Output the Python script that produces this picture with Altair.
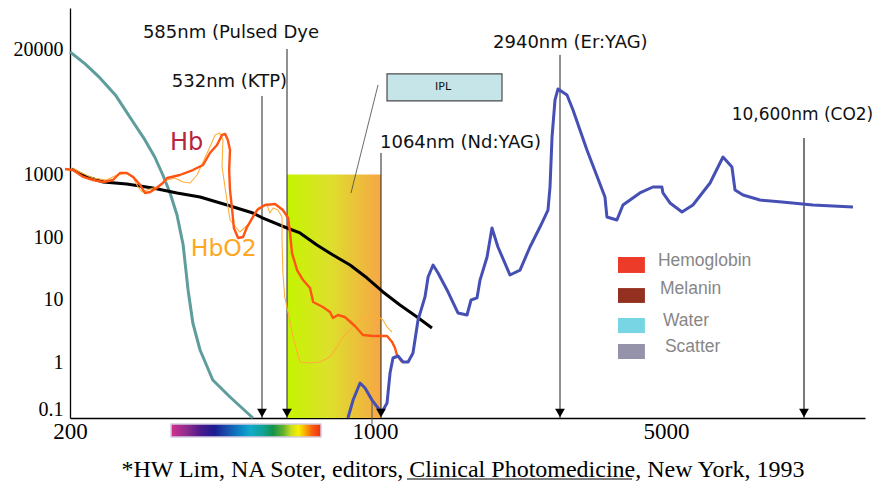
import altair as alt
import pandas as pd

# ---------------- data (wavelength in nm, absorption coefficient) ----------------
teal_x = [200, 216, 233, 252, 274, 293, 308, 321, 333, 345, 356, 365, 374, 388, 414, 452, 508]
teal_y = [18660, 13990, 10000, 6650, 3652, 2262, 1503, 964, 500, 224, 74.3, 14.0, 4.16, 1.55, 0.414, 0.18, 0.065]

mel_x = [202, 218, 237, 267, 305, 345, 388, 445, 508, 534, 585, 633, 702, 774, 859, 953, 1076, 1185, 1306, 1421]
mel_y = [1127, 897, 747, 693, 599, 500, 431, 322, 240, 200, 139, 116, 74.3, 51.2, 35.3, 21.8, 13.0, 8.03, 5.18, 3.46]

hb_x = [195, 203, 214, 225, 237, 249, 258, 267, 276, 286, 293, 301, 311, 321, 328, 350, 374, 394, 408, 423,
        434, 441, 447, 452, 450, 452, 457, 461, 471, 483, 493, 508, 519, 538, 559, 576, 589, 596, 603, 622,
        645, 673, 686, 728, 760, 774, 798, 832, 885, 929, 988, 1101, 1133, 1152, 1165, 1199]
hb_y = [1127, 1100, 897, 803, 747, 803, 1024, 1024, 897, 669, 500, 518, 599, 720, 865, 964, 1100, 1241, 1655, 2005,
        2549, 2612, 2262, 1778, 1100, 557, 268, 139, 96.3, 100, 144, 208, 268, 322, 334, 268, 200, 116, 55.2, 29.3,
        20.2, 15.0, 8.97, 7.47, 6.22, 5.0, 5.57, 5.18, 3.73, 2.68, 2.59, 2.59, 2.08, 1.67, 1.29, 1.0]

hbo2_x = [203, 210, 225, 241, 254, 267, 276, 283, 289, 296, 311, 328, 341, 356, 369, 382, 394, 408, 419, 429,
          436, 434, 445, 452, 475, 500, 508, 521, 542, 548, 555, 565, 574, 574, 576, 580, 589, 607, 633, 673,
          715, 760, 793, 823, 859, 896, 941, 1021, 1076, 1101, 1133]
hbo2_y = [1155, 1049, 865, 803, 964, 1024, 865, 622, 518, 557, 622, 803, 865, 747, 720, 964, 1334, 1911, 2549, 2675,
          2262, 1183, 386, 186, 120, 167, 208, 288, 334, 240, 288, 268, 208, 89.3, 26.3, 10.8, 6.0, 2.49, 1.0, 0.952,
          1.0, 1.2, 1.73, 2.49, 3.22, 4.31, 5.18, 5.37, 4.64, 3.59, 2.99]

water_x = [848, 875, 913, 941, 982, 1032, 1070, 1101, 1120, 1139, 1172, 1206, 1241, 1276, 1313, 1366, 1390, 1430, 1471, 1548,
           1647, 1734, 1774, 1835, 1867, 1943, 1998, 2067, 2213, 2343, 2479, 2624, 2746, 2778, 2810, 2858, 2907, 3045, 3138, 3365,
           3683, 3719, 3910, 4030, 4387, 4683, 4898, 4924, 5110, 5455, 5790, 6355, 6820, 7160, 7280, 7605, 8340, 9400, 11130, 13855]
water_y = [0.065, 0.155, 0.357, 0.28, 0.155, 0.105, 0.087, 0.134, 0.583, 1.157, 1.245, 1.0, 1.0, 1.39, 4.64, 10.8, 22.6, 35.3, 26.3, 14.0,
           6.0, 5.57, 9.64, 10.4, 20.2, 47.6, 139, 69, 24.4, 29.3, 69, 144, 268, 622, 2429, 5900, 7685, 6650, 4640, 1778,
           431, 208, 186, 322, 500, 622, 622, 500, 347, 249, 322, 720, 1503, 1183, 557, 464, 386, 359, 322, 299]

laser_nm = [532, 585, 1064, 2940, 10600]
laser_top = [6494, 20000, 1655, 17360, 2371]
laser_grey = [False, False, False, False, True]

label_text = ["585nm (Pulsed Dye", "532nm (KTP)", "1064nm (Nd:YAG)", "2940nm (Er:YAG)"]
label_x = [290, 336, 1053, 2010]
label_y = [29240, 9085, 2103, 23060]
co2_label = dict(x=7150, y=4117, t="10,600nm (CO2)")

ipl_band = dict(x=585, x2=1064, y=0.065, y2=980)
ipl_box = dict(x=1101, x2=2115, y=5760, y2=11010)
ipl_label = dict(x=1513, y=8057, t="IPL")
ipl_leader = dict(x=1032, y=8453, x2=864, y2=500)

legend_names = ["Hemoglobin", "Melanin", "Water", "Scatter"]
legend_colors = ["#EC2A17", "#8A1E0C", "#6DD3E2", "#8C8AA2"]
legend_box_y = [47.6, 15.0, 5.0, 1.93]
legend_box_y2 = [26.3, 8.66, 2.88, 1.116]
legend_text_x = [4801, 4852, 4924, 4972]
legend_text_y = [41.0, 14.5, 4.48, 1.73]

x_ticks = [200, 1000, 5000]
y_ticks = [0.1, 1, 10, 100, 1000, 20000]

# ---------------- scales / axes ----------------
XS = alt.Scale(type="log", domain=[200, 532, 585, 1000, 1064, 2940, 5000, 10600, 14800],
               range=[0, 192, 217, 305, 311, 490, 596, 734, 795], nice=False)
YS = alt.Scale(type="log", domain=[0.065, 0.1, 1, 10, 100, 1000, 20000, 53000],
               range=[410, 401, 354, 291, 229, 166, 41, 0], nice=False)
XA = alt.Axis(values=x_ticks, labelExpr="'' + datum.value", ticks=False, grid=False,
              domainColor="#000", domainWidth=1.3, labelFont="Liberation Serif",
              labelFontSize=23, labelColor="#000", labelPadding=2, labelFlush=False, labelOverlap=False)
YA = alt.Axis(values=y_ticks, labelExpr="'' + datum.value", ticks=False, grid=False,
              domainColor="#000", domainWidth=1.3, labelFont="Liberation Serif",
              labelFontSize=20, labelColor="#000", labelPadding=7, labelFlush=False,
              labelOverlap=False, labelBaseline="middle")


def X(f):
    return alt.X(f, scale=XS, axis=XA, title=None)


def Y(f):
    return alt.Y(f, scale=YS, axis=YA, title=None)


def curve(xs, ys, color, width):
    df = pd.DataFrame({"x": xs, "y": ys, "i": list(range(len(xs)))})
    return alt.Chart(df).mark_line(color=color, strokeWidth=width, strokeJoin="round").encode(
        x=X("x:Q"), y=Y("y:Q"), order="i:Q")


# IPL gradient band
band = alt.Chart(pd.DataFrame([ipl_band])).mark_rect(
    fill=alt.Gradient(gradient="linear", x1=0, x2=1, y1=0, y2=0,
                      stops=[alt.GradientStop(color="#C4F500", offset=0),
                             alt.GradientStop(color="#DDE02C", offset=0.45),
                             alt.GradientStop(color="#F7A646", offset=1)])
).encode(x=X("x:Q"), x2="x2:Q", y=Y("y:Q"), y2="y2:Q")

# IPL label box
box = alt.Chart(pd.DataFrame([ipl_box])).mark_rect(fill="#C6E5E8", stroke="#4a4a4a", strokeWidth=1.2).encode(
    x=X("x:Q"), x2="x2:Q", y=Y("y:Q"), y2="y2:Q")
box_text = alt.Chart(pd.DataFrame([ipl_label])).mark_text(font="DejaVu Sans", fontSize=11, color="#111",
                                                          align="center", baseline="middle").encode(
    x=X("x:Q"), y=Y("y:Q"), text="t:N")
leader = alt.Chart(pd.DataFrame([ipl_leader])).mark_rule(color="#444", strokeWidth=0.8).encode(
    x=X("x:Q"), x2="x2:Q", y=Y("y:Q"), y2="y2:Q")

# laser lines
laser_df = pd.DataFrame({"x": laser_nm, "top": laser_top, "bot": [0.065] * 5,
                         "g": ["y" if g else "n" for g in laser_grey]})
laser_dark = alt.Chart(laser_df[laser_df.g == "n"].reset_index(drop=True)).mark_rule(
    color="#222", strokeWidth=1).encode(x=X("x:Q"), y=Y("top:Q"), y2="bot:Q")
laser_light = alt.Chart(laser_df[laser_df.g == "y"].reset_index(drop=True)).mark_rule(
    color="#7a7a7a", strokeWidth=2).encode(x=X("x:Q"), y=Y("top:Q"), y2="bot:Q")
arrows = alt.Chart(laser_df).mark_point(shape="triangle-down", filled=True, size=95, color="#000",
                                        opacity=1, yOffset=-5).encode(x=X("x:Q"), y=Y("bot:Q"))

# small tick near 1000
tick = alt.Chart(pd.DataFrame({"x": [982], "y": [0.155], "y2": [0.0487]})).mark_rule(
    color="#555", strokeWidth=1).encode(x=X("x:Q"), y=Y("y:Q"), y2="y2:Q")

labels = alt.Chart(pd.DataFrame({"x": label_x, "y": label_y, "t": label_text})).mark_text(
    font="DejaVu Sans", fontSize=18, color="#111", align="left", baseline="middle").encode(
    x=X("x:Q"), y=Y("y:Q"), text="t:N")
co2_lab = alt.Chart(pd.DataFrame([co2_label])).mark_text(
    font="DejaVu Sans", fontSize=17, color="#111", align="left", baseline="middle").encode(
    x=X("x:Q"), y=Y("y:Q"), text="t:N")

hb_lab = alt.Chart(pd.DataFrame({"x": [333], "y": [2103], "t": ["Hb"]})).mark_text(
    font="DejaVu Sans", fontSize=24, color="#B8233F", align="left", baseline="middle").encode(
    x=X("x:Q"), y=Y("y:Q"), text="t:N")
hbo2_lab = alt.Chart(pd.DataFrame({"x": [370], "y": [64], "t": ["HbO2"]})).mark_text(
    font="DejaVu Sans", fontSize=23.5, color="#FFA623", align="left", baseline="middle").encode(
    x=X("x:Q"), y=Y("y:Q"), text="t:N")

# legend drawn as marks
leg_df = pd.DataFrame({"name": legend_names, "c": legend_colors, "y": legend_box_y, "y2": legend_box_y2,
                       "ty": legend_text_y, "x": [3931] * 4, "x2": [4499] * 4, "tx": legend_text_x})
leg_boxes = alt.Chart(leg_df).mark_rect(opacity=0.92).encode(
    x=X("x:Q"), x2="x2:Q", y=Y("y:Q"), y2="y2:Q", color=alt.Color("c:N", scale=None))
leg_text = alt.Chart(leg_df).mark_text(font="Liberation Sans", fontSize=17.5, color="#7a7a7a", align="left",
                                       baseline="middle", opacity=0.9).encode(
    x=X("tx:Q"), y=Y("ty:Q"), text="name:N")

# spectrum bar below axis (decoration)
spectrum = alt.Chart(pd.DataFrame({"a": [0]})).mark_rect(
    stroke="#d4cce2", strokeWidth=1.5,
    fill=alt.Gradient(gradient="linear", x1=0, x2=1, y1=0, y2=0,
                      stops=[alt.GradientStop(color="#D3318F", offset=0.0),
                             alt.GradientStop(color="#8B2A8C", offset=0.11),
                             alt.GradientStop(color="#4A1A8C", offset=0.2),
                             alt.GradientStop(color="#1A1C92", offset=0.29),
                             alt.GradientStop(color="#1850AE", offset=0.375),
                             alt.GradientStop(color="#0C84C4", offset=0.46),
                             alt.GradientStop(color="#12AACA", offset=0.53),
                             alt.GradientStop(color="#10A090", offset=0.62),
                             alt.GradientStop(color="#139248", offset=0.68),
                             alt.GradientStop(color="#66B22E", offset=0.75),
                             alt.GradientStop(color="#C8DC20", offset=0.8),
                             alt.GradientStop(color="#F8F000", offset=0.85),
                             alt.GradientStop(color="#F8B400", offset=0.89),
                             alt.GradientStop(color="#F86010", offset=0.94),
                             alt.GradientStop(color="#EE2E10", offset=1.0)])
).encode(x=alt.value(101), x2=alt.value(251), y=alt.value(416), y2=alt.value(429))

footer = alt.Chart(pd.DataFrame({"t": ["*HW Lim, NA Soter, editors, Clinical Photomedicine, New York, 1993"]})).mark_text(
    font="Liberation Serif", fontSize=24, color="#000", align="center", baseline="alphabetic").encode(
    x=alt.value(393), y=alt.value(469), text="t:N")
underline = alt.Chart(pd.DataFrame({"a": [0]})).mark_rule(color="#000", strokeWidth=1).encode(
    x=alt.value(337), x2=alt.value(562), y=alt.value(471))

chart = alt.layer(
    band, box, leader, box_text, laser_dark, laser_light, tick,
    curve(teal_x, teal_y, "#5F9C9C", 3),
    curve(mel_x, mel_y, "#000000", 3),
    curve(hbo2_x, hbo2_y, "#FFAE3A", 1.1),
    curve(hb_x, hb_y, "#FF5412", 2.4),
    curve(water_x, water_y, "#4650B4", 3),
    arrows, labels, co2_lab, hb_lab, hbo2_lab, leg_boxes, leg_text, spectrum, footer, underline,
).properties(
    width=795, height=410,
    autosize=alt.AutoSizeParams(type="none"),
    padding={"left": 62, "top": 0, "right": 8, "bottom": 66},
).configure_view(stroke=None)

chart.save("out.html", embed_options={"renderer": "svg", "actions": False})
